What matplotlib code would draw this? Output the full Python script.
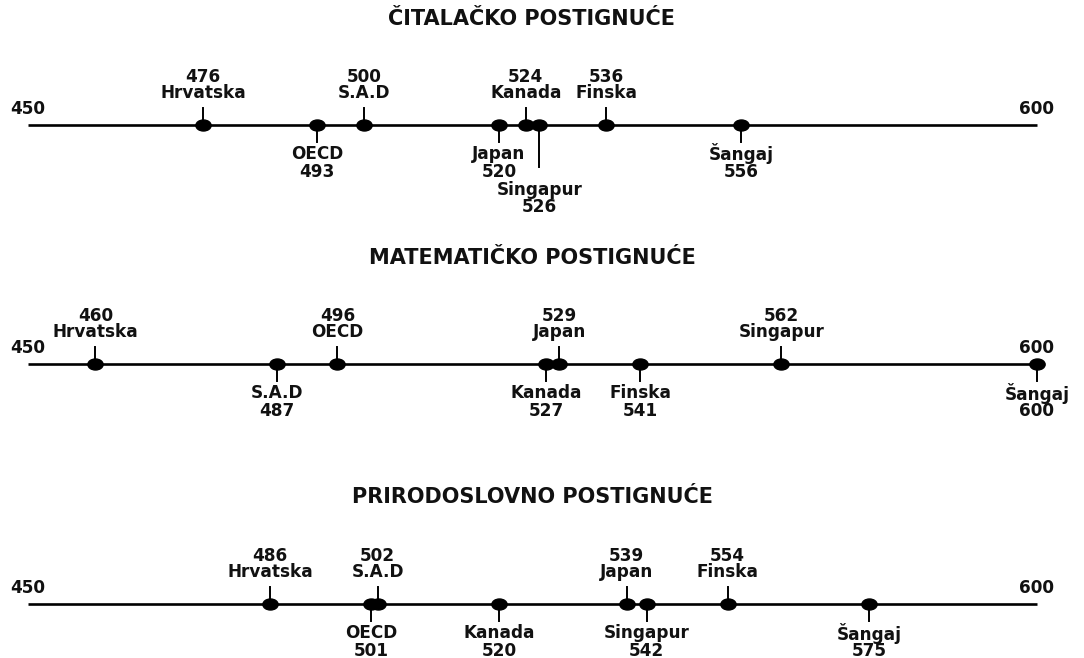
import numpy as np
import matplotlib
matplotlib.use("Agg")
from matplotlib import pyplot as plt
from matplotlib.path import Path
from matplotlib.transforms import Affine2D

titles = ["ČITALAČKO POSTIGNUĆE", "MATEMATIČKO POSTIGNUĆE", "PRIRODOSLOVNO POSTIGNUĆE"]

reading_names = ["Hrvatska", "OECD", "S.A.D", "Japan", "Kanada", "Singapur", "Finska", "Šangaj"]
reading_vals = [476, 493, 500, 520, 524, 526, 536, 556]

math_names = ["Hrvatska", "S.A.D", "OECD", "Kanada", "Japan", "Finska", "Singapur", "Šangaj"]
math_vals = [460, 487, 496, 527, 529, 541, 562, 600]

science_names = ["Hrvatska", "OECD", "S.A.D", "Kanada", "Japan", "Singapur", "Finska", "Šangaj"]
science_vals = [486, 501, 502, 520, 539, 542, 554, 575]

scale_min, scale_max = 450, 600

panels = [(reading_names, reading_vals), (math_names, math_vals), (science_names, science_vals)]

W, H = 1084, 658
px_per_unit = (1037 - 28) / (scale_max - scale_min)

fig = plt.figure(figsize=(W / 100, H / 100), dpi=100)
ax = fig.add_axes([0, 0, 1, 1])
ax.set_xlim(scale_min - 28 / px_per_unit, scale_min + (W - 28) / px_per_unit)
ax.set_ylim(H, 0)
ax.axis('off')

font = dict(family='DejaVu Sans', fontweight='bold', fontsize=12.2, color='#111111')

# slightly flattened dot, like the original
dot = Path.unit_circle().transformed(Affine2D().scale(1.0, 0.72))

line_ys = [125, 364, 604]
title_ys = [19, 258, 497]

for (names, vals), title, ly, ty in zip(panels, titles, line_ys, title_ys):
    fig.text(532 / W, 1 - ty / H, title, ha='center', va='center',
             family='DejaVu Sans', fontweight='bold', fontsize=15, color='#111111')

    ax.plot([scale_min, scale_max], [ly, ly], color='black', lw=1.9, solid_capstyle='butt', zorder=2)
    ax.text(scale_min, ly - 16, str(scale_min), ha='center', va='center', **font)
    ax.text(scale_max, ly - 16, str(scale_max), ha='center', va='center', **font)

    order = np.argsort(vals)
    last_x = {1: None, -1: None}
    for k, i in enumerate(order):
        v = vals[i]
        side = 1 if k % 2 == 0 else -1   # 1 = above, -1 = below
        extra = 0
        if last_x[side] is not None and (v - last_x[side]) * px_per_unit < 60:
            extra = 25
        last_x[side] = v
        tick_end = ly - side * (17 + extra)
        ax.plot([v, v], [ly, tick_end], color='black', lw=1.4, zorder=2)
        if side == 1:
            ax.text(v, ly - 48, str(v), ha='center', va='center', **font)
            ax.text(v, ly - 32, names[i], ha='center', va='center', **font)
        else:
            ax.text(v, ly + 29 + extra * 1.45, names[i], ha='center', va='center', **font)
            ax.text(v, ly + 47 + extra * 1.4, str(v), ha='center', va='center', **font)

    ax.plot(vals, [ly] * len(vals), linestyle='none', marker=dot, markersize=11,
            color='black', zorder=3)

fig.savefig("out.png", dpi=100, facecolor='white')
